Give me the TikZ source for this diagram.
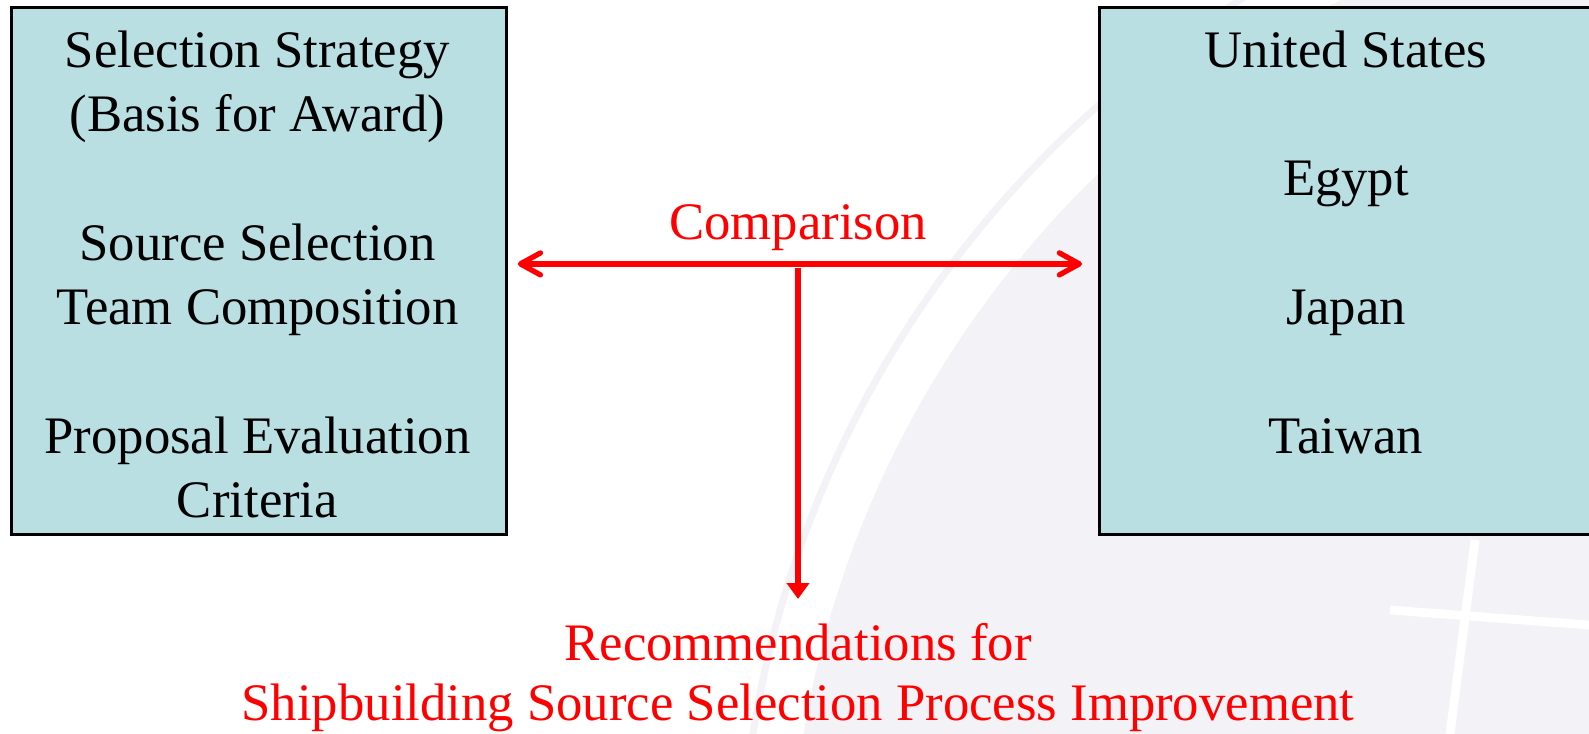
\documentclass[tikz,border=0pt]{standalone}
\usepackage{fontspec}
\setmainfont{Liberation Serif}
\usepackage{tikz}
\usetikzlibrary{arrows.meta, positioning, calc}
\definecolor{myred}{RGB}{255,0,0}
\definecolor{myaqua}{RGB}{185,223,227}
\definecolor{globegray}{RGB}{243,243,247}
\tikzset{
  bigbox/.style={rectangle, draw=black, fill=myaqua, line width=0.8pt,
    inner sep=0pt},
  boxtext/.style={align=center, inner sep=0pt, text=black,
    font=\fontsize{15}{18.3}\selectfont},
  redtext/.style={align=center, inner sep=0pt, text=myred,
    font=\fontsize{15}{17}\selectfont},
  twoway/.style={{Straight Barb[length=2mm, width=2.2mm, line cap=round, line join=round]}-{Straight Barb[length=2mm, width=2.2mm, line cap=round, line join=round]},
    line width=1.5pt, color=myred},
  downarrow/.style={-{Triangle[length=1.6mm, width=2.2mm]}, line width=1.5pt, color=myred}
}

\begin{document}
\begin{tikzpicture}
  \useasboundingbox (0,0) rectangle (15.89,-7.34);
  \fill[white] (0,0) rectangle (15.89,-7.34);

  % faint globe backdrop
  \begin{scope}
    \clip (0,0) rectangle (15.89,-7.34);
    \fill[globegray] (18,-9) circle (10.1);
    \draw[globegray, line width=2pt] (18,-9) circle (10.6);
    \draw[white, line width=2.5pt] (14.75,-5.4) -- (14.5,-7.34);
    \draw[white, line width=2.5pt] (13.9,-6.1) -- (15.89,-6.25);
  \end{scope}

  % Left box: criteria
  \node[bigbox, minimum width=4.95cm, minimum height=5.27cm, anchor=north west]
    (leftbox) at (0.10,-0.06) {};
  \node[boxtext, anchor=north] (crit) at (2.575,-0.30)
    {Selection Strategy\\(Basis for Award)\\[18.3pt]Source Selection\\Team Composition\\[18.3pt]Proposal Evaluation\\Criteria};

  % Right box: countries
  \node[bigbox, minimum width=5.2cm, minimum height=5.27cm, anchor=north west]
    (rightbox) at (10.98,-0.06) {};
  \node[boxtext, anchor=north] (ctry) at (13.46,-0.30)
    {United States\\[18.3pt]Egypt\\[18.3pt]Japan\\[18.3pt]Taiwan};

  % Comparison arrow
  \node[redtext, anchor=base] (cmp) at (7.98,-2.40) {Comparison};
  \draw[twoway, shorten <=0.1cm, shorten >=0.16cm]
    ([yshift=0.07cm]leftbox.east) -- ([yshift=0.07cm]rightbox.west);

  % Result
  \coordinate (fork) at (7.98,-2.68);
  \node[redtext, anchor=north] (recs) at (7.98,-6.23)
    {Recommendations for\\Shipbuilding Source Selection Process Improvement};
  \draw[downarrow, shorten >=0.24cm] (fork) -- (recs.north);
\end{tikzpicture}
\end{document}
